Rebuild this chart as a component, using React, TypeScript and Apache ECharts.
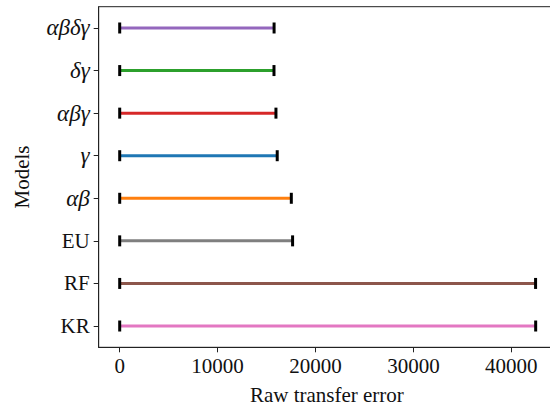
import React, { useEffect, useRef } from "react";
import * as echarts from "echarts";

// Models from bottom to top of the axis
const models = ["KR", "RF", "EU", "αβ", "γ", "αβγ", "δγ", "αβδγ"];
const greek = [false, false, false, true, true, true, true, true];
// Raw transfer error of each model (bar runs from 0 to the value)
const errors = [42490, 42480, 17660, 17530, 16090, 15960, 15760, 15770];
const colors = ["#e377c2", "#8c564b", "#7f7f7f", "#ff7f0e", "#1f77b4", "#d62728", "#2ca02c", "#9467bd"];
const xTicks = [0, 10000, 20000, 30000, 40000];

const FONT = "Liberation Serif";

export default function App() {
  const ref = useRef<HTMLDivElement>(null);

  useEffect(() => {
    const chart = echarts.init(ref.current!, null, { renderer: "svg" });
    chart.setOption({
      animation: false,
      backgroundColor: "#ffffff",
      textStyle: { fontFamily: FONT },
      grid: {
        left: 98.7,
        top: 6.7,
        right: -5,
        bottom: 59.7,
        containLabel: false,
        outerBoundsMode: "none",
        show: true,
        borderColor: "#222",
        borderWidth: 1,
        backgroundColor: "transparent",
      },
      xAxis: {
        type: "value",
        min: -2145,
        max: 44464,
        name: "Raw transfer error",
        nameLocation: "middle",
        nameGap: 48,
        nameTextStyle: { fontFamily: FONT, fontSize: 21, lineHeight: 21, color: "#111", verticalAlign: "middle" },
        splitLine: { show: false },
        axisLine: { show: true, onZero: false, lineStyle: { color: "#222", width: 1 } },
        axisTick: { show: true, length: 5, customValues: xTicks, lineStyle: { color: "#222" } },
        axisLabel: {
          customValues: xTicks,
          margin: 8,
          fontFamily: FONT,
          fontSize: 21,
          color: "#111",
          formatter: (v: number) => String(v),
        },
      },
      yAxis: {
        type: "category",
        data: models,
        boundaryGap: true,
        name: "Models",
        nameLocation: "middle",
        nameGap: 77,
        nameRotate: 90,
        nameTextStyle: { fontFamily: FONT, fontSize: 21, color: "#111", verticalAlign: "middle" },
        axisLine: { show: true, onZero: false, lineStyle: { color: "#222", width: 1 } },
        axisTick: { show: true, alignWithLabel: true, length: 5, lineStyle: { color: "#222" } },
        axisLabel: {
          margin: 9,
          fontFamily: FONT,
          fontSize: 21,
          color: "#111",
          formatter: (v: string) => {
            const i = models.indexOf(v);
            return greek[i] ? `{g|${v}}` : `{r|${v}}`;
          },
          rich: {
            g: { fontFamily: FONT, fontSize: 23, fontStyle: "italic", color: "#111" },
            r: { fontFamily: FONT, fontSize: 21, color: "#111" },
          },
        },
      },
      series: [
        {
          type: "custom",
          data: errors.map((e, i) => [e, i]),
          encode: { x: 0, y: 1 },
          renderItem: (params: any, api: any) => {
            const idx = api.value(1);
            const start = api.coord([0, idx]);
            const end = api.coord([api.value(0), idx]);
            const capW = 3;
            const capH = 11;
            return {
              type: "group",
              children: [
                {
                  type: "line",
                  shape: { x1: start[0], y1: start[1], x2: end[0], y2: end[1] },
                  style: { stroke: colors[params.dataIndex], lineWidth: 3 },
                },
                {
                  type: "rect",
                  shape: { x: start[0] - capW / 2, y: start[1] - capH / 2, width: capW, height: capH },
                  style: { fill: "#000" },
                },
                {
                  type: "rect",
                  shape: { x: end[0] - capW / 2, y: end[1] - capH / 2, width: capW, height: capH },
                  style: { fill: "#000" },
                },
              ],
            };
          },
        },
      ],
    });
    return () => chart.dispose();
  }, []);

  return <div ref={ref} style={{ width: 550, height: 407, position: "absolute", left: 0, top: 0 }} />;
}
